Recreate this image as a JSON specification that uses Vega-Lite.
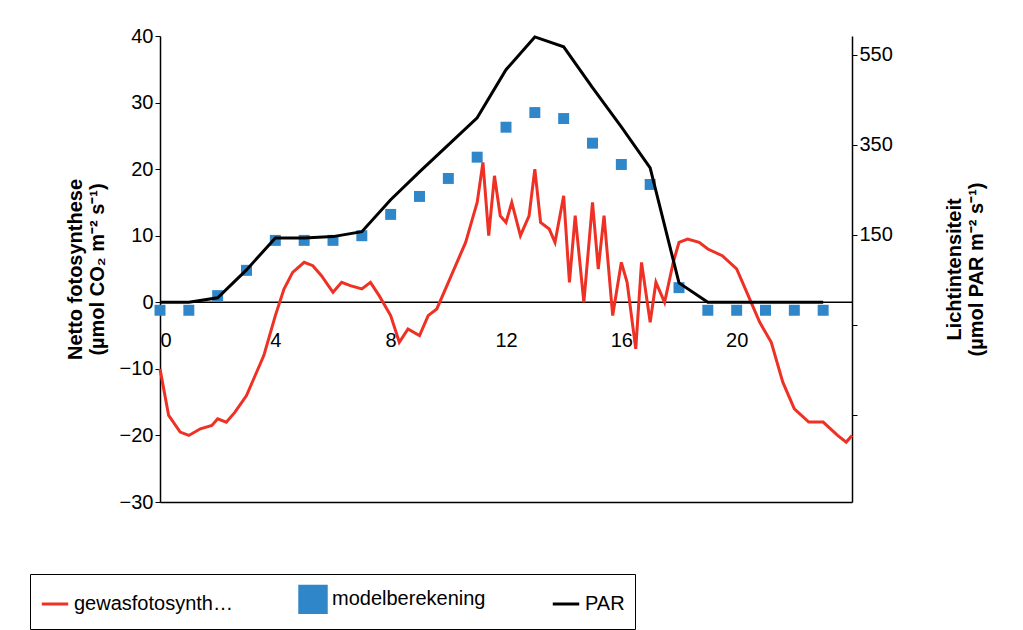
{
  "$schema": "https://vega.github.io/schema/vega-lite/v6.json",
  "width": 692,
  "height": 466,
  "autosize": "none",
  "padding": {"left": 160, "top": 36, "right": 171, "bottom": 128},
  "background": "white",
  "config": {
    "view": {"stroke": null},
    "font": "Liberation Sans",
    "axis": {"labelFont": "Liberation Sans", "labelFontSize": 20, "labelColor": "black", "titleFont": "Liberation Sans", "titleFontSize": 20, "titleColor": "black", "domainColor": "black", "domainWidth": 1.5, "tickColor": "black", "grid": false}
  },
  "datasets": {
    "red": [
      {"t": 0, "v": -10}, {"t": 0.3, "v": -17}, {"t": 0.7, "v": -19.5}, {"t": 1, "v": -20}, {"t": 1.4, "v": -19}, {"t": 1.8, "v": -18.5}, {"t": 2, "v": -17.5}, {"t": 2.3, "v": -18}, {"t": 2.6, "v": -16.5}, {"t": 3, "v": -14}, {"t": 3.3, "v": -11}, {"t": 3.6, "v": -8}, {"t": 4, "v": -2}, {"t": 4.3, "v": 2}, {"t": 4.6, "v": 4.5}, {"t": 5, "v": 6}, {"t": 5.3, "v": 5.5}, {"t": 5.6, "v": 4}, {"t": 6, "v": 1.5}, {"t": 6.3, "v": 3}, {"t": 6.6, "v": 2.5}, {"t": 7, "v": 2}, {"t": 7.3, "v": 3}, {"t": 7.6, "v": 1}, {"t": 8, "v": -2}, {"t": 8.3, "v": -6}, {"t": 8.6, "v": -4}, {"t": 9, "v": -5}, {"t": 9.3, "v": -2}, {"t": 9.6, "v": -1}, {"t": 10, "v": 3}, {"t": 10.3, "v": 6}, {"t": 10.6, "v": 9}, {"t": 10.8, "v": 12}, {"t": 11, "v": 15}, {"t": 11.2, "v": 21}, {"t": 11.4, "v": 10}, {"t": 11.6, "v": 19}, {"t": 11.8, "v": 13}, {"t": 12, "v": 12}, {"t": 12.2, "v": 15}, {"t": 12.5, "v": 10}, {"t": 12.8, "v": 13}, {"t": 13, "v": 20}, {"t": 13.2, "v": 12}, {"t": 13.5, "v": 11}, {"t": 13.7, "v": 9}, {"t": 14, "v": 16}, {"t": 14.2, "v": 3}, {"t": 14.4, "v": 13}, {"t": 14.7, "v": 0}, {"t": 15, "v": 15}, {"t": 15.2, "v": 5}, {"t": 15.4, "v": 13}, {"t": 15.7, "v": -2}, {"t": 16, "v": 6}, {"t": 16.2, "v": 3}, {"t": 16.5, "v": -7}, {"t": 16.7, "v": 6}, {"t": 17, "v": -3}, {"t": 17.2, "v": 3}, {"t": 17.5, "v": 0}, {"t": 17.8, "v": 6}, {"t": 18, "v": 9}, {"t": 18.3, "v": 9.5}, {"t": 18.7, "v": 9}, {"t": 19, "v": 8}, {"t": 19.5, "v": 7}, {"t": 20, "v": 5}, {"t": 20.3, "v": 2}, {"t": 20.8, "v": -3}, {"t": 21.2, "v": -6}, {"t": 21.6, "v": -12}, {"t": 22, "v": -16}, {"t": 22.5, "v": -18}, {"t": 23, "v": -18}, {"t": 23.5, "v": -20}, {"t": 23.8, "v": -21}, {"t": 24, "v": -20}
    ],
    "model": [
      {"t": 0, "v": -1.2}, {"t": 1, "v": -1.2}, {"t": 2, "v": 1}, {"t": 3, "v": 4.8}, {"t": 4, "v": 9.3}, {"t": 5, "v": 9.3}, {"t": 6, "v": 9.3}, {"t": 7, "v": 10}, {"t": 8, "v": 13.2}, {"t": 9, "v": 15.9}, {"t": 10, "v": 18.6}, {"t": 11, "v": 21.8}, {"t": 12, "v": 26.3}, {"t": 13, "v": 28.5}, {"t": 14, "v": 27.6}, {"t": 15, "v": 23.9}, {"t": 16, "v": 20.7}, {"t": 17, "v": 17.7}, {"t": 18, "v": 2.2}, {"t": 19, "v": -1.2}, {"t": 20, "v": -1.2}, {"t": 21, "v": -1.2}, {"t": 22, "v": -1.2}, {"t": 23, "v": -1.2}
    ],
    "par": [
      {"t": 0, "p": 0}, {"t": 1, "p": 0}, {"t": 2, "p": 10}, {"t": 3, "p": 72}, {"t": 4, "p": 143}, {"t": 5, "p": 143}, {"t": 6, "p": 146}, {"t": 7, "p": 157}, {"t": 8, "p": 228}, {"t": 9, "p": 290}, {"t": 10, "p": 350}, {"t": 11, "p": 410}, {"t": 12, "p": 517}, {"t": 13, "p": 590}, {"t": 14, "p": 568}, {"t": 15, "p": 477}, {"t": 16, "p": 390}, {"t": 17, "p": 299}, {"t": 18, "p": 43}, {"t": 19, "p": 0}, {"t": 20, "p": 0}, {"t": 21, "p": 0}, {"t": 22, "p": 0}, {"t": 23, "p": 0}
    ]
  },
  "resolve": {"scale": {"y": "independent"}},
  "layer": [
    {
      "layer": [
        {
          "data": {"values": [{"v": 0}]},
          "mark": {"type": "rule", "color": "black", "strokeWidth": 1.5},
          "encoding": {"y": {"field": "v", "type": "quantitative"}}
        },
        {
          "data": {"name": "red"},
          "transform": [{"calculate": "'gewasfotosynthesemonitor'", "as": "s"}],
          "mark": {"type": "line", "strokeWidth": 3},
          "encoding": {
            "x": {"field": "t", "type": "quantitative"},
            "y": {"field": "v", "type": "quantitative"},
            "color": {"field": "s", "type": "nominal"}
          }
        },
        {
          "data": {"name": "model"},
          "transform": [{"calculate": "'modelberekening'", "as": "s"}],
          "mark": {"type": "point", "filled": true, "size": 120, "opacity": 1},
          "encoding": {
            "x": {"field": "t", "type": "quantitative",
              "scale": {"domain": [0, 24], "nice": false},
              "axis": {"values": [0, 4, 8, 12, 16, 20], "title": "Tijdstip van de dag (uur)", "titleFontWeight": "bold", "titleFontSize": 22, "ticks": false, "labelPadding": -172, "titlePadding": 192}},
            "y": {"field": "v", "type": "quantitative",
              "scale": {"domain": [-30, 40], "nice": false},
              "axis": {"values": [-30, -20, -10, 0, 10, 20, 30, 40], "title": ["Netto fotosynthese", "(µmol CO₂ m⁻² s⁻¹)"], "titleFontWeight": "bold", "titlePadding": 12}},
            "color": {"field": "s", "type": "nominal",
              "scale": {"domain": ["gewasfotosynthesemonitor", "modelberekening", "PAR"], "range": ["#ee3124", "#2f86c9", "black"]},
              "legend": {"title": null, "orient": "none", "legendX": -130, "legendY": 538, "direction": "horizontal", "columns": 3, "columnPadding": 60, "labelFontSize": 20, "symbolSize": 700, "symbolStrokeWidth": 3, "strokeColor": "black", "padding": 10, "labelFont": "Liberation Sans", "labelColor": "black"}},
            "shape": {"field": "s", "type": "nominal",
              "scale": {"domain": ["gewasfotosynthesemonitor", "modelberekening", "PAR"], "range": ["stroke", "square", "stroke"]},
              "legend": null}
          }
        }
      ]
    },
    {
      "data": {"name": "par"},
      "transform": [{"calculate": "'PAR'", "as": "s"}],
      "mark": {"type": "line", "strokeWidth": 3},
      "encoding": {
        "x": {"field": "t", "type": "quantitative"},
        "y": {"field": "p", "type": "quantitative",
          "scale": {"domain": [-444, 592], "nice": false},
          "axis": {"orient": "right", "values": [-250, -50, 150, 350, 550], "labelExpr": "datum.value > 0 ? datum.label : ''", "title": ["Lichtintensiteit", "(µmol PAR m⁻² s⁻¹)"], "titleAngle": -90, "titleFontWeight": "bold", "titlePadding": 50, "titleBaseline": "bottom"}},
        "color": {"field": "s", "type": "nominal"}
      }
    }
  ]
}
